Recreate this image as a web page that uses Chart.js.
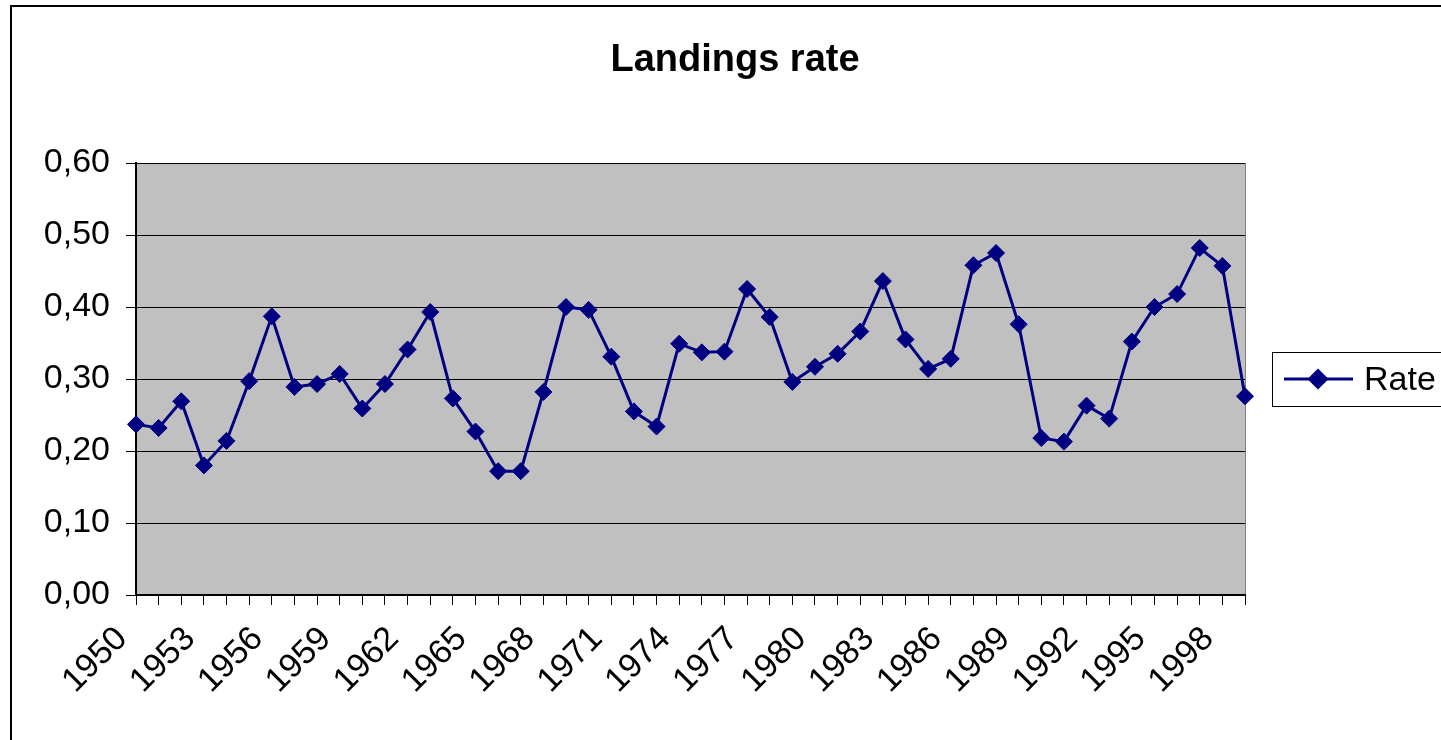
<!DOCTYPE html>
<html>
<head>
<meta charset="utf-8">
<script src="https://cdn.jsdelivr.net/npm/chart.js@4/dist/chart.umd.min.js"></script>
<style>
  html, body { margin: 0; padding: 0; background: #fff; overflow: hidden; }
  #grafica { display: block; }
</style>
</head>
<body>
<canvas id="grafica" width="1470" height="740"></canvas>
<script>
const years = [
  "1950","1951","1952","1953","1954","1955","1956","1957","1958","1959",
  "1960","1961","1962","1963","1964","1965","1966","1967","1968","1969",
  "1970","1971","1972","1973","1974","1975","1976","1977","1978","1979",
  "1980","1981","1982","1983","1984","1985","1986","1987","1988","1989",
  "1990","1991","1992","1993","1994","1995","1996","1997","1998","1999"
];
const rate = [
  0.237, 0.232, 0.269, 0.180, 0.214, 0.297, 0.387, 0.289, 0.293, 0.307,
  0.259, 0.293, 0.341, 0.393, 0.273, 0.227, 0.172, 0.172, 0.282, 0.400,
  0.396, 0.331, 0.255, 0.234, 0.349, 0.337, 0.338, 0.425, 0.386, 0.296,
  0.317, 0.335, 0.366, 0.436, 0.355, 0.314, 0.328, 0.458, 0.475, 0.376,
  0.218, 0.213, 0.263, 0.245, 0.352, 0.400, 0.418, 0.482, 0.457, 0.276
];
const xTickLabels = ["1950","1953","1956","1959","1962","1965","1968","1971",
  "1974","1977","1980","1983","1986","1989","1992","1995","1998"];
const yTickLabels = ["0,00","0,10","0,20","0,30","0,40","0,50","0,60"];

const navy = "#000080";
const fuente = "Arial, 'Liberation Sans', sans-serif";

// fondo gris del area de trazado, borde del grafico y leyenda con marco
const fondoExcel = {
  id: "fondoExcel",
  beforeDraw(chart) {
    const ctx = chart.ctx;
    const a = chart.chartArea;
    ctx.save();
    ctx.fillStyle = "#ffffff";
    ctx.fillRect(0, 0, chart.width, chart.height);
    ctx.fillStyle = "#c0c0c0";
    ctx.fillRect(a.left, a.top, a.right - a.left, a.bottom - a.top);
    ctx.strokeStyle = "#808080";
    ctx.lineWidth = 1;
    ctx.beginPath();
    ctx.moveTo(a.right + 0.5, a.top);
    ctx.lineTo(a.right + 0.5, a.bottom);
    ctx.stroke();
    // marco del grafico
    ctx.strokeStyle = "#000";
    ctx.lineWidth = 2;
    ctx.beginPath();
    ctx.moveTo(11, 740);
    ctx.lineTo(11, 6);
    ctx.lineTo(chart.width, 6);
    ctx.stroke();
    ctx.restore();
  },
  afterDraw(chart) {
    const ctx = chart.ctx;
    const ds = chart.data.datasets[0];
    ctx.save();
    ctx.strokeStyle = "#000";
    ctx.lineWidth = 1;
    ctx.strokeRect(1272.5, 352.5, 260, 54);
    ctx.strokeStyle = navy;
    ctx.lineWidth = 3;
    ctx.beginPath();
    ctx.moveTo(1284, 379);
    ctx.lineTo(1353, 379);
    ctx.stroke();
    Chart.helpers.drawPoint(ctx, {
      pointStyle: "rectRot", radius: 8.5, borderWidth: 1
    }, 1318, 379);
    ctx.fillStyle = navy;
    ctx.fill();
    ctx.fillStyle = "#000";
    ctx.font = "34px " + fuente;
    ctx.textBaseline = "middle";
    ctx.textAlign = "left";
    ctx.fillText(ds.label, 1364, 381);
    ctx.restore();
  }
};

const grafica = new Chart(document.getElementById("grafica"), {
  type: "line",
  data: {
    labels: years,
    datasets: [{
      label: "Rate",
      data: rate,
      borderColor: navy,
      backgroundColor: navy,
      borderWidth: 3,
      pointStyle: "rectRot",
      pointRadius: 8.5,
      pointBorderWidth: 1,
      pointBackgroundColor: navy,
      pointBorderColor: navy,
      tension: 0
    }]
  },
  plugins: [fondoExcel],
  options: {
    responsive: false,
    animation: false,
    devicePixelRatio: 1,
    layout: { padding: 0 },
    scales: {
      x: {
        type: "category",
        offset: false,
        afterFit(scale) {
          scale.height = 145;
          scale.paddingRight = 225;
          scale.paddingLeft = 0;
        },
        grid: {
          drawOnChartArea: false,
          drawTicks: true,
          tickLength: 10,
          color: "#000",
          lineWidth: 1
        },
        border: { display: true, color: "#000", width: 2 },
        ticks: {
          autoSkip: false,
          maxRotation: 45,
          minRotation: 45,
          padding: 14,
          labelOffset: -14,
          color: "#000",
          font: { family: fuente, size: 34 },
          callback(value, index) {
            const y = years[index];
            return xTickLabels.includes(y) ? y : "";
          }
        }
      },
      y: {
        min: 0,
        max: 0.6,
        afterFit(scale) {
          scale.width = 136;
        },
        grid: {
          drawOnChartArea: true,
          drawTicks: true,
          tickLength: 10,
          color: "#000",
          lineWidth: 1
        },
        border: { display: true, color: "#000", width: 2 },
        ticks: {
          stepSize: 0.1,
          padding: 16,
          color: "#000",
          font: { family: fuente, size: 34 },
          callback(value, index) {
            return yTickLabels[index];
          }
        }
      }
    },
    plugins: {
      legend: { display: false },
      tooltip: { enabled: false },
      title: {
        display: true,
        text: "Landings rate",
        color: "#000",
        font: { family: fuente, size: 38, weight: "bold", lineHeight: 1.2 },
        padding: { top: 38, bottom: 79.4 }
      }
    }
  }
});
</script>
</body>
</html>
